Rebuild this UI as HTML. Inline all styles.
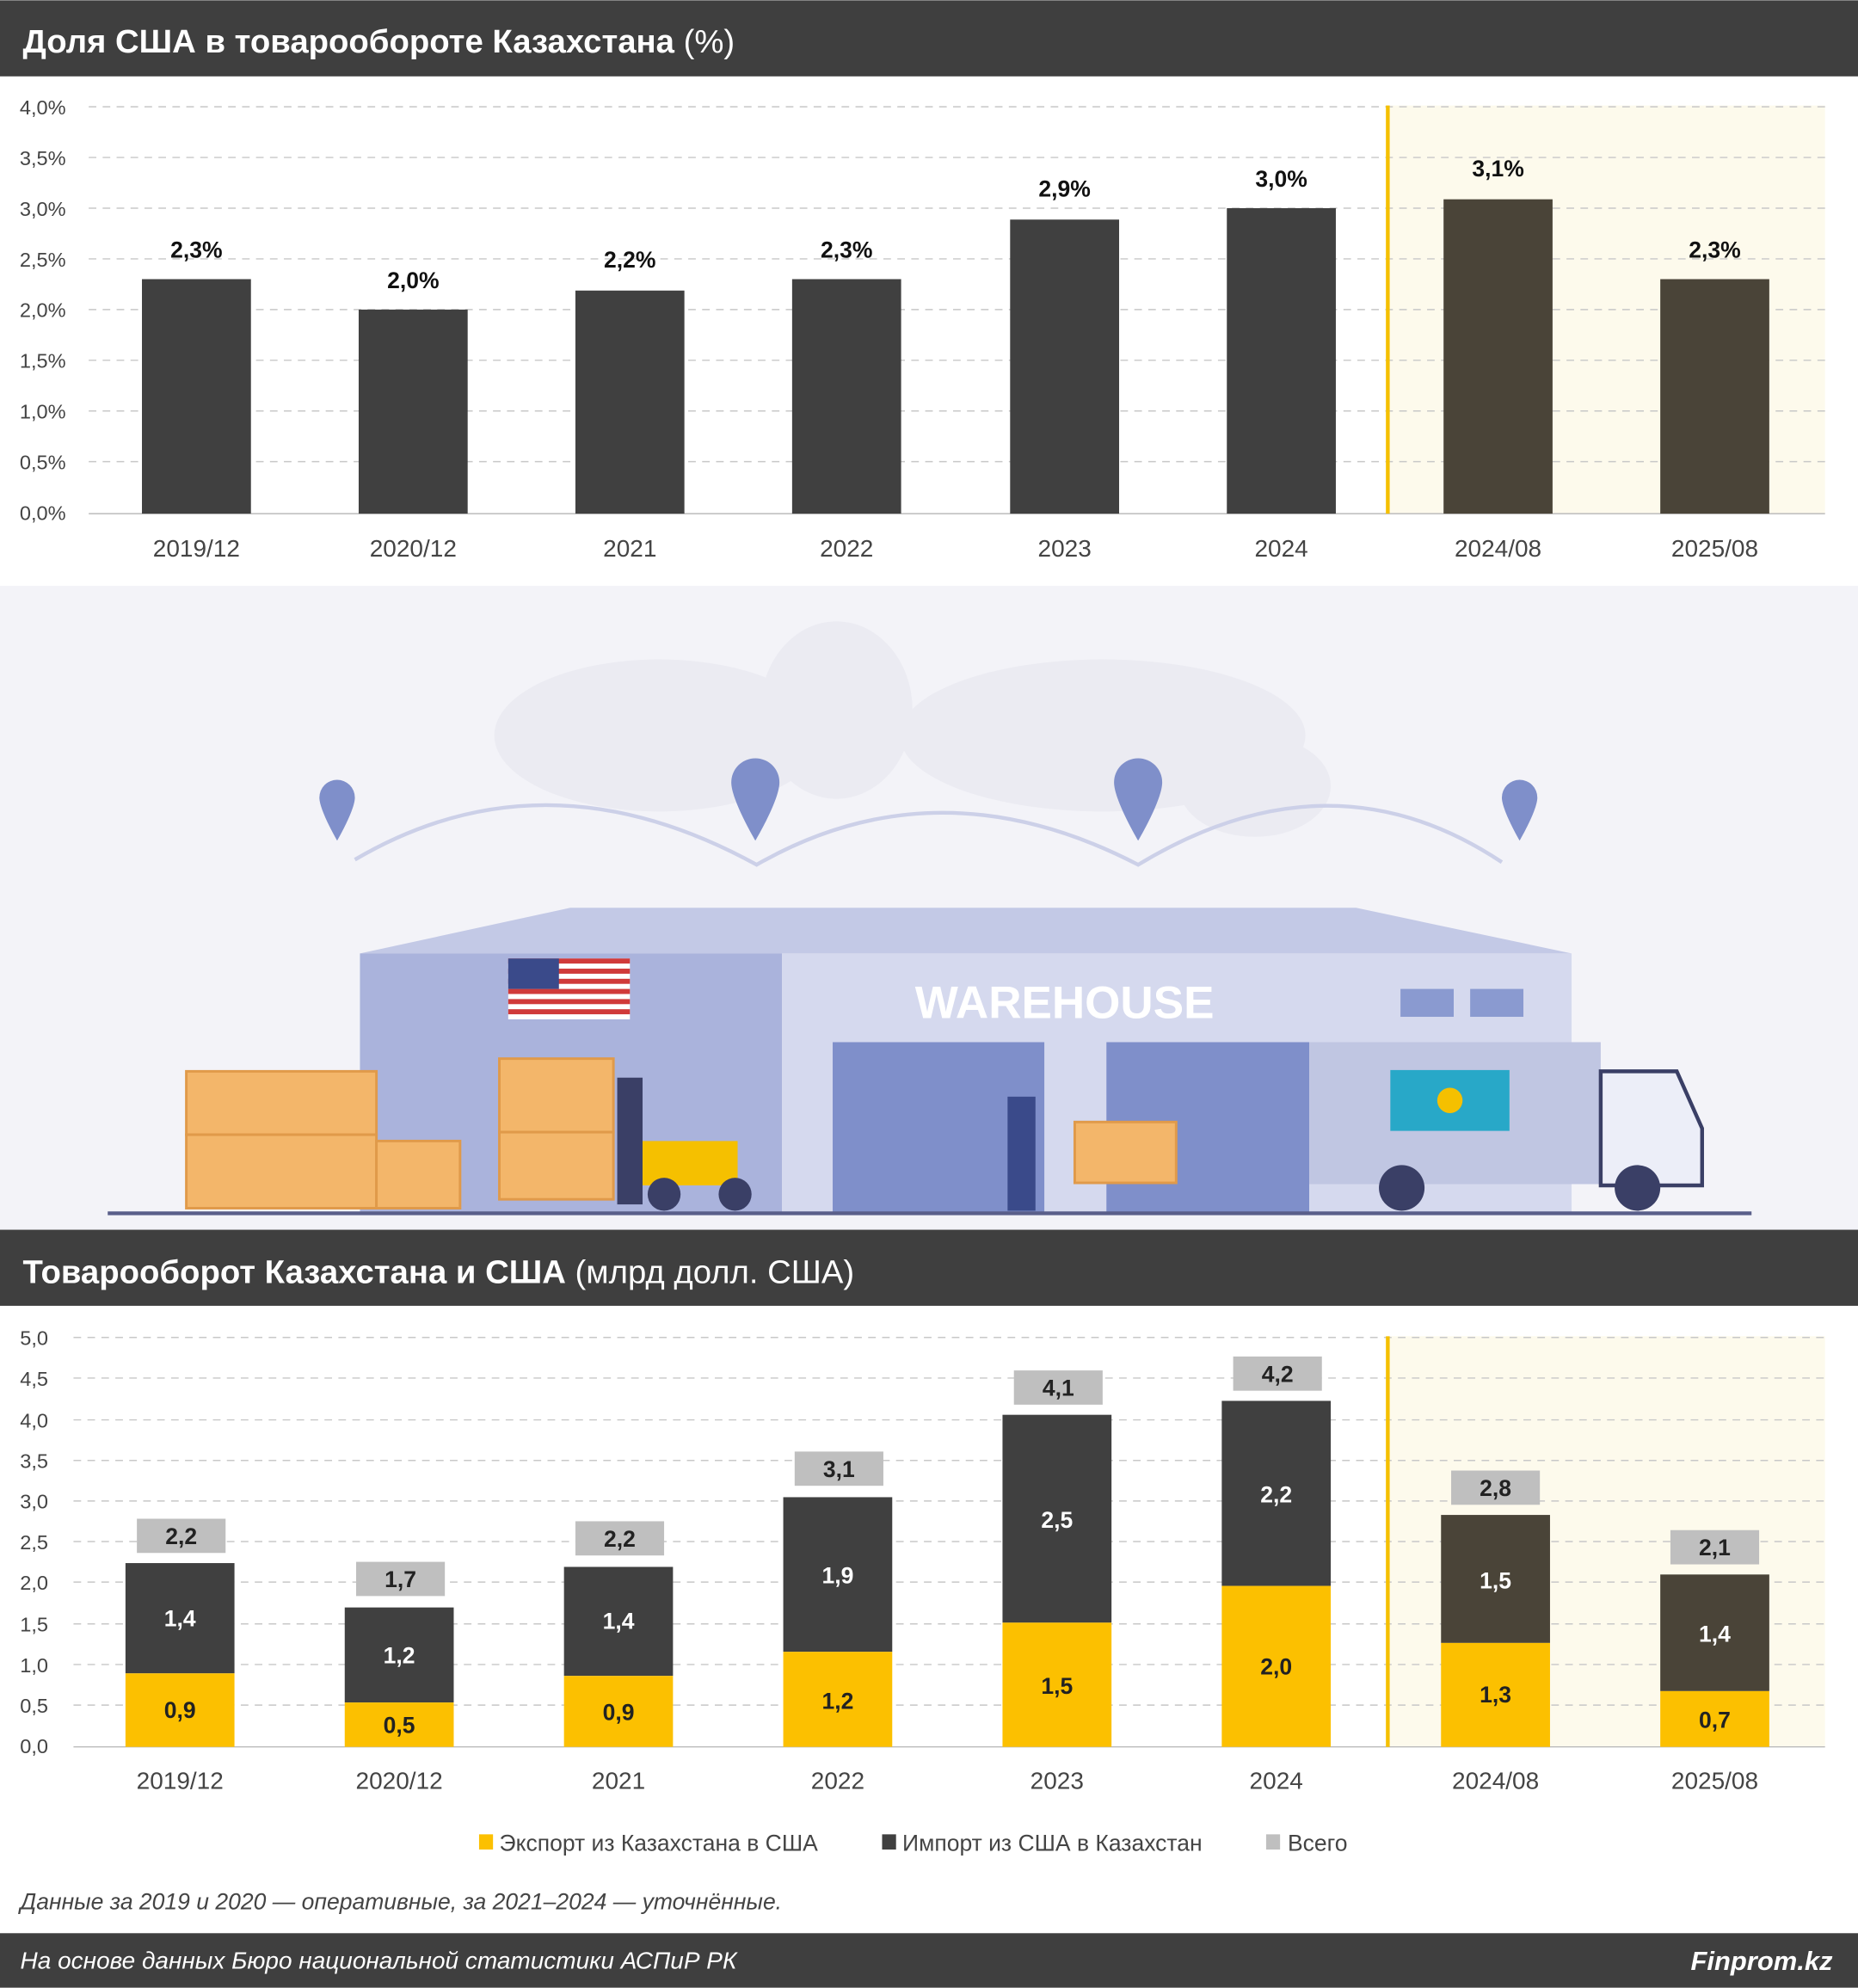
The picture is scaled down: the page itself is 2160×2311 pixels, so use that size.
<!DOCTYPE html>
<html><head><meta charset="utf-8"><style>
html,body{margin:0;padding:0;background:#fff}
svg{display:block}
text{font-family:"Liberation Sans",sans-serif}
</style></head><body>
<svg width="2160" height="2311" viewBox="0 0 1466 1568" xmlns="http://www.w3.org/2000/svg">
<rect width="1466" height="1568" fill="#fff"/>
<rect x="0" y="0" width="1466" height="60" fill="#3f3f3f"/>
<text x="18" y="41" font-size="26" fill="#fff" font-weight="bold">Доля США в товарообороте Казахстана <tspan font-weight="normal">(%)</tspan></text>
<rect x="1095" y="83" width="345" height="322" fill="#fdfaec"/>
<g stroke="#c8c8c8" stroke-dasharray="6,5" stroke-width="1">
<line x1="70" x2="1440" y1="84" y2="84"/><line x1="70" x2="1440" y1="124" y2="124"/><line x1="70" x2="1440" y1="164" y2="164"/><line x1="70" x2="1440" y1="204" y2="204"/><line x1="70" x2="1440" y1="244" y2="244"/><line x1="70" x2="1440" y1="284" y2="284"/><line x1="70" x2="1440" y1="324" y2="324"/><line x1="70" x2="1440" y1="364" y2="364"/>
</g>
<line x1="70" x2="1440" y1="405" y2="405" stroke="#bbb"/>
<line x1="1095" x2="1095" y1="83" y2="405" stroke="#f5c000" stroke-width="3"/>
<g font-size="16" fill="#444" text-anchor="end">
<text x="52" y="90">4,0%</text><text x="52" y="130">3,5%</text><text x="52" y="170">3,0%</text><text x="52" y="210">2,5%</text><text x="52" y="250">2,0%</text><text x="52" y="290">1,5%</text><text x="52" y="330">1,0%</text><text x="52" y="370">0,5%</text><text x="52" y="410">0,0%</text>
</g>
<g fill="#404040">
<rect x="112" y="220" width="86" height="185"/><rect x="283" y="244" width="86" height="161"/><rect x="454" y="229" width="86" height="176"/><rect x="625" y="220" width="86" height="185"/><rect x="797" y="173" width="86" height="232"/><rect x="968" y="164" width="86" height="241"/>
</g>
<g fill="#4a4438"><rect x="1139" y="157" width="86" height="248"/><rect x="1310" y="220" width="86" height="185"/></g>
<g font-size="18" font-weight="bold" fill="#111" text-anchor="middle">
<text x="155" y="203">2,3%</text><text x="326" y="227">2,0%</text><text x="497" y="211">2,2%</text><text x="668" y="203">2,3%</text><text x="840" y="155">2,9%</text><text x="1011" y="147">3,0%</text><text x="1182" y="139">3,1%</text><text x="1353" y="203">2,3%</text>
</g>
<g font-size="19" fill="#444" text-anchor="middle">
<text x="155" y="439">2019/12</text><text x="326" y="439">2020/12</text><text x="497" y="439">2021</text><text x="668" y="439">2022</text><text x="840" y="439">2023</text><text x="1011" y="439">2024</text><text x="1182" y="439">2024/08</text><text x="1353" y="439">2025/08</text>
</g>
<rect x="0" y="462" width="1466" height="508" fill="#f3f3f8"/>
<g fill="#ebebf2">
<ellipse cx="520" cy="580" rx="130" ry="60"/><ellipse cx="660" cy="560" rx="60" ry="70"/><ellipse cx="870" cy="580" rx="160" ry="60"/><ellipse cx="990" cy="620" rx="60" ry="40"/>
</g>
<g fill="none" stroke="#ccd0e8" stroke-width="3">
<path d="M280 678 Q430 590 597 682 Q740 600 898 682 Q1050 590 1185 680"/>
</g>
<g fill="#7f8fca">
<path d="M266 615 a14 14 0 0 1 14 14 c0 10 -14 34 -14 34 c0 0 -14 -24 -14 -34 a14 14 0 0 1 14 -14z"/>
<path d="M596 598 a19 19 0 0 1 19 19 c0 14 -19 46 -19 46 c0 0 -19 -32 -19 -46 a19 19 0 0 1 19 -19z"/>
<path d="M898 598 a19 19 0 0 1 19 19 c0 14 -19 46 -19 46 c0 0 -19 -32 -19 -46 a19 19 0 0 1 19 -19z"/>
<path d="M1199 615 a14 14 0 0 1 14 14 c0 10 -14 34 -14 34 c0 0 -14 -24 -14 -34 a14 14 0 0 1 14 -14z"/>
</g>
<polygon points="284,752 450,716 1070,716 1240,752" fill="#c3c9e6"/>
<rect x="284" y="752" width="333" height="204" fill="#aab3dc"/>
<rect x="617" y="752" width="623" height="204" fill="#d5d9ee"/>
<text x="840" y="803" font-size="36" font-weight="bold" fill="#fff" text-anchor="middle">WAREHOUSE</text>
<rect x="1105" y="780" width="42" height="22" fill="#8a9ad0"/><rect x="1160" y="780" width="42" height="22" fill="#8a9ad0"/>
<rect x="401" y="756" width="96" height="48" fill="#fff"/>
<g fill="#d03a3a"><rect x="401" y="756" width="96" height="4"/><rect x="401" y="764" width="96" height="4"/><rect x="401" y="772" width="96" height="4"/><rect x="401" y="780" width="96" height="4"/><rect x="401" y="788" width="96" height="4"/><rect x="401" y="796" width="96" height="4"/></g>
<rect x="401" y="756" width="40" height="24" fill="#3a4a8a"/>
<rect x="657" y="822" width="167" height="134" fill="#7f8fca"/>
<rect x="873" y="822" width="160" height="134" fill="#7f8fca"/>
<rect x="1033" y="822" width="230" height="112" fill="#c0c6e2"/>
<rect x="1097" y="844" width="94" height="48" fill="#28a8c8"/>
<circle cx="1144" cy="868" r="10" fill="#f5c000"/>
<path d="M1263 845 h60 l20 45 v45 h-80z" fill="#eceef8" stroke="#3a3f66" stroke-width="3"/>
<circle cx="1106" cy="937" r="18" fill="#3a3f66"/><circle cx="1292" cy="937" r="18" fill="#3a3f66"/>
<g fill="#f3b66a" stroke="#e09a4a" stroke-width="2">
<rect x="147" y="845" width="150" height="50"/><rect x="147" y="895" width="150" height="58"/><rect x="297" y="900" width="66" height="53"/><rect x="394" y="835" width="90" height="58"/><rect x="394" y="893" width="90" height="53"/>
<rect x="848" y="885" width="80" height="48"/>
</g>
<rect x="487" y="850" width="20" height="100" fill="#3a3f66"/>
<rect x="507" y="900" width="75" height="35" fill="#f5c000"/>
<circle cx="524" cy="942" r="13" fill="#3a3f66"/><circle cx="580" cy="942" r="13" fill="#3a3f66"/>
<rect x="795" y="865" width="22" height="90" fill="#3a4a8a"/>
<line x1="85" x2="1382" y1="957" y2="957" stroke="#5a5f8a" stroke-width="3"/>
<rect x="0" y="970" width="1466" height="60" fill="#3f3f3f"/>
<text x="18" y="1012" font-size="26" fill="#fff" font-weight="bold">Товарооборот Казахстана и США <tspan font-weight="normal">(млрд долл. США)</tspan></text>
<rect x="1095" y="1054" width="345" height="324" fill="#fdfaec"/>
<g stroke="#c8c8c8" stroke-dasharray="6,5">
<line x1="58" x2="1440" y1="1055" y2="1055"/><line x1="58" x2="1440" y1="1087" y2="1087"/><line x1="58" x2="1440" y1="1120" y2="1120"/><line x1="58" x2="1440" y1="1152" y2="1152"/><line x1="58" x2="1440" y1="1184" y2="1184"/><line x1="58" x2="1440" y1="1216" y2="1216"/><line x1="58" x2="1440" y1="1248" y2="1248"/><line x1="58" x2="1440" y1="1281" y2="1281"/><line x1="58" x2="1440" y1="1313" y2="1313"/><line x1="58" x2="1440" y1="1345" y2="1345"/>
</g>
<line x1="58" x2="1440" y1="1378" y2="1378" stroke="#bbb"/>
<line x1="1095" x2="1095" y1="1054" y2="1378" stroke="#f5c000" stroke-width="3"/>
<g font-size="16" fill="#444" text-anchor="end">
<text x="38" y="1061">5,0</text><text x="38" y="1093">4,5</text><text x="38" y="1126">4,0</text><text x="38" y="1158">3,5</text><text x="38" y="1190">3,0</text><text x="38" y="1222">2,5</text><text x="38" y="1254">2,0</text><text x="38" y="1287">1,5</text><text x="38" y="1319">1,0</text><text x="38" y="1351">0,5</text><text x="38" y="1383">0,0</text>
</g>
<g fill="#404040">
<rect x="99" y="1233" width="86" height="87"/><rect x="272" y="1268" width="86" height="75"/><rect x="445" y="1236" width="86" height="86"/><rect x="618" y="1181" width="86" height="122"/><rect x="791" y="1116" width="86" height="164"/><rect x="964" y="1105" width="86" height="146"/>
</g>
<g fill="#4a4438"><rect x="1137" y="1195" width="86" height="101"/><rect x="1310" y="1242" width="86" height="92"/></g>
<g fill="#fcc000">
<rect x="99" y="1320" width="86" height="58"/><rect x="272" y="1343" width="86" height="35"/><rect x="445" y="1322" width="86" height="56"/><rect x="618" y="1303" width="86" height="75"/><rect x="791" y="1280" width="86" height="98"/><rect x="964" y="1251" width="86" height="127"/><rect x="1137" y="1296" width="86" height="82"/><rect x="1310" y="1334" width="86" height="44"/>
</g>
<g fill="#bfbfbf">
<rect x="108" y="1198" width="70" height="27"/><rect x="281" y="1232" width="70" height="27"/><rect x="454" y="1200" width="70" height="27"/><rect x="627" y="1145" width="70" height="27"/><rect x="800" y="1081" width="70" height="27"/><rect x="973" y="1070" width="70" height="27"/><rect x="1145" y="1160" width="70" height="27"/><rect x="1318" y="1207" width="70" height="27"/>
</g>
<g font-size="18" font-weight="bold" fill="#222" text-anchor="middle">
<text x="143" y="1218">2,2</text><text x="316" y="1252">1,7</text><text x="489" y="1220">2,2</text><text x="662" y="1165">3,1</text><text x="835" y="1101">4,1</text><text x="1008" y="1090">4,2</text><text x="1180" y="1180">2,8</text><text x="1353" y="1227">2,1</text>
</g>
<g font-size="18" font-weight="bold" fill="#fff" text-anchor="middle">
<text x="142" y="1283">1,4</text><text x="315" y="1312">1,2</text><text x="488" y="1285">1,4</text><text x="661" y="1249">1,9</text><text x="834" y="1205">2,5</text><text x="1007" y="1185">2,2</text><text x="1180" y="1253">1,5</text><text x="1353" y="1295">1,4</text>
</g>
<g font-size="18" font-weight="bold" fill="#222" text-anchor="middle">
<text x="142" y="1355">0,9</text><text x="315" y="1367">0,5</text><text x="488" y="1357">0,9</text><text x="661" y="1348">1,2</text><text x="834" y="1336">1,5</text><text x="1007" y="1321">2,0</text><text x="1180" y="1343">1,3</text><text x="1353" y="1363">0,7</text>
</g>
<g font-size="19" fill="#444" text-anchor="middle">
<text x="142" y="1411">2019/12</text><text x="315" y="1411">2020/12</text><text x="488" y="1411">2021</text><text x="661" y="1411">2022</text><text x="834" y="1411">2023</text><text x="1007" y="1411">2024</text><text x="1180" y="1411">2024/08</text><text x="1353" y="1411">2025/08</text>
</g>
<g font-size="18" fill="#444">
<rect x="378" y="1447" width="11" height="12" fill="#fcc000"/><text x="394" y="1460">Экспорт из Казахстана в США</text>
<rect x="696" y="1447" width="11" height="12" fill="#404040"/><text x="712" y="1460">Импорт из США в Казахстан</text>
<rect x="999" y="1447" width="11" height="12" fill="#bfbfbf"/><text x="1016" y="1460">Всего</text>
</g>
<text x="16" y="1506" font-size="18" font-style="italic" fill="#444">Данные за 2019 и 2020 — оперативные, за 2021–2024 — уточнённые.</text>
<rect x="0" y="1525" width="1466" height="43" fill="#3f3f3f"/>
<text x="16" y="1553" font-size="19" font-style="italic" fill="#fff">На основе данных Бюро национальной статистики АСПиР РК</text>
<text x="1446" y="1554" font-size="21" font-style="italic" font-weight="bold" fill="#fff" text-anchor="end">Finprom.kz</text>
</svg>
</body></html>
